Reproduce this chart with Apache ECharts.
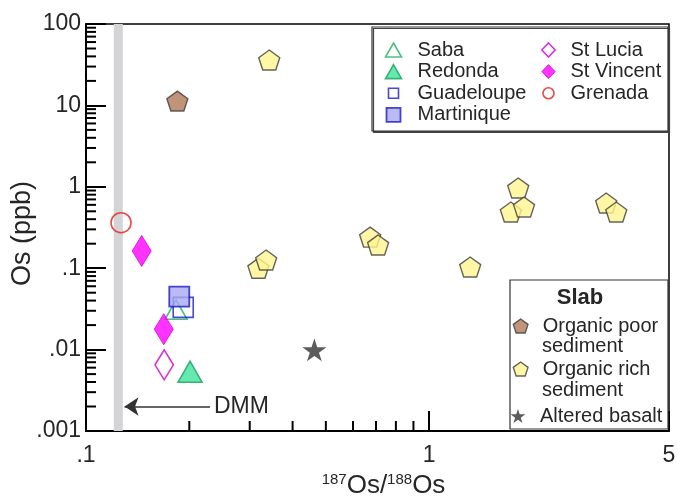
<!DOCTYPE html>
<html><head><meta charset="utf-8">
<script src="https://cdn.jsdelivr.net/npm/echarts@6/dist/echarts.min.js"></script>
<style>html,body{margin:0;padding:0;background:#fff}#c{width:677px;height:499px}</style>
</head><body><div id="c"></div>
<script>
// ---- data ----
const xMin = 0.1, xMax = 5, yMin = 0.001, yMax = 100;
const xTickValues = [0.1, 1, 5];
const xTickLabels = ['.1', '1', '5'];
const yTickValues = [0.001, 0.01, 0.1, 1, 10, 100];
const yTickLabels = ['.001', '.01', '.1', '1', '10', '100'];
const xMinorTicks = [0.2, 0.3, 0.4, 0.5, 0.6, 0.7, 0.8, 0.9];
const yMinorTicks = [0.002,0.003,0.004,0.005,0.006,0.007,0.008,0.009,
  0.02,0.03,0.04,0.05,0.06,0.07,0.08,0.09,
  0.2,0.3,0.4,0.5,0.6,0.7,0.8,0.9,
  2,3,4,5,6,7,8,9,
  20,30,40,50,60,70,80,90];
const dmmBand = [0.1205, 0.128];
const dmmArrow = [[0.2298, 0.002], [0.1295, 0.002]];

const saba = [[0.183, 0.031]];
const redonda = [[0.201, 0.00535]];
const guadeloupe = [[0.192, 0.033]];
const martinique = [[0.187, 0.0447]];
const stLucia = [[0.169, 0.0065]];
const stVincent = [[0.1453, 0.163], [0.1685, 0.0178]];
const grenada = [[0.1265, 0.362]];
const organicPoor = [[0.1846, 11.3]];
const organicRich = [[0.342, 36.1], [0.318, 0.100], [0.335, 0.126], [0.673, 0.241], [0.710, 0.193],
  [1.317, 0.1035], [1.818, 0.967], [1.73, 0.49], [1.89, 0.565], [3.28, 0.632], [3.51, 0.49]];
const alteredBasalt = [[0.463, 0.0099]];

// ---- styles ----
const FONT = '"Liberation Sans", Arial, sans-serif';
const TXT = '#262626';
const PENT = 'path://M50,0 L97.55,34.55 L79.39,90.45 L20.61,90.45 L2.45,34.55 Z';
const STAR = 'path://M50,0 L61.23,34.55 L97.55,34.55 L68.17,55.9 L79.39,90.45 L50,69.1 L20.61,90.45 L31.83,55.9 L2.45,34.55 L38.77,34.55 Z';
const TRI = 'path://M12,0 L24,21 L0,21 Z';
const DIA_TALL = 'path://M19,0 L38,31 L19,62 L0,31 Z';
const DIA_LEG = 'path://M20,0 L40,21 L20,42 L0,21 Z';
const SQ = 'path://M0,0 L10,0 L10,10 L0,10 Z';
const SQ_SMALL = 'path://M0,0 M2,2 L12,2 L12,12 L2,12 Z M14,14';
const CIRC_SMALL = 'path://M0,0 M1.5,7 A5.5,5.5 0 1,1 12.5,7 A5.5,5.5 0 1,1 1.5,7 Z M14,14';
const NONE = 'rgba(255,255,255,0)';
const S = {
  'Saba': {data: saba, symbol: TRI, size: 22, is: {color: NONE, borderColor: '#1fb060', borderWidth: 1.6}},
  'Redonda': {data: redonda, symbol: TRI, size: 24, is: {color: '#3fe39c', borderColor: '#16a35a', borderWidth: 1.6}},
  'Guadeloupe': {data: guadeloupe, symbol: SQ, legendIcon: SQ_SMALL, size: 20, is: {color: NONE, borderColor: '#1c1cc8', borderWidth: 1.6}},
  'Martinique': {data: martinique, symbol: SQ, size: 20, is: {color: '#a9a9f4', borderColor: '#1c1cc0', borderWidth: 1.8}},
  'St Lucia': {data: stLucia, symbol: DIA_TALL, legendIcon: DIA_LEG, size: 30, is: {color: '#fff', borderColor: '#cc00cc', borderWidth: 1.6}},
  'St Vincent': {data: stVincent, symbol: DIA_TALL, legendIcon: DIA_LEG, size: 31, is: {color: '#ff00ff', borderColor: '#dd00dd', borderWidth: 1}},
  'Grenada': {data: grenada, symbol: 'circle', legendIcon: CIRC_SMALL, size: 20, is: {color: NONE, borderColor: '#e0201c', borderWidth: 1.6}},
  'Organic poor sediment': {data: organicPoor, symbol: PENT, size: 21, is: {color: '#b27858', borderColor: '#3c3c3c', borderWidth: 1.4}},
  'Organic rich sediment': {data: organicRich, symbol: PENT, size: 21, is: {color: '#fff58e', borderColor: '#3c3c3c', borderWidth: 1.4}},
  'Altered basalt': {data: alteredBasalt, symbol: STAR, size: 24, is: {color: '#333333', borderColor: '#333333', borderWidth: 0}}
};
const drawOrder = ['Organic rich sediment', 'Organic poor sediment', 'Altered basalt', 'Saba', 'Redonda',
  'Guadeloupe', 'Martinique', 'St Lucia', 'St Vincent', 'Grenada'];

function tickLabel(v, vals, labels) {
  for (let i = 0; i < vals.length; i++) {
    if (Math.abs(Math.log10(v) - Math.log10(vals[i])) < 1e-6) return labels[i];
  }
  return '';
}
function legendItem(name) {
  const s = S[name];
  return {name: name, icon: s.legendIcon || s.symbol,
    itemStyle: Object.assign({}, s.is, {color: s.is.color === NONE ? '#fff' : s.is.color})};
}
const legendText = {fontSize: 20, color: TXT, fontFamily: FONT, lineHeight: 20};
const legendBase = {orient: 'vertical', padding: 0, itemHeight: 14, itemGap: 1.6, selectedMode: false,
  symbolKeepAspect: true, textStyle: legendText};

const series = drawOrder.map(name => ({
  type: 'scatter', name: name, data: S[name].data, symbol: S[name].symbol, symbolSize: S[name].size,
  symbolKeepAspect: true, itemStyle: S[name].is, silent: true, z: 4
}));
series.unshift({
  type: 'custom', name: 'xminor', silent: true, z: 3, clip: false,
  data: xMinorTicks.map(v => [v, yMin]),
  renderItem: (p, api) => {
    const pt = api.coord([api.value(0), api.value(1)]);
    return {type: 'line', shape: {x1: pt[0], y1: pt[1], x2: pt[0], y2: pt[1] - 10}, style: {stroke: '#000', lineWidth: 2}};
  }
});
series.unshift({
  type: 'custom', name: 'yminor', silent: true, z: 3, clip: false,
  data: yMinorTicks.map(v => [xMin, v]),
  renderItem: (p, api) => {
    const pt = api.coord([api.value(0), api.value(1)]);
    return {type: 'line', shape: {x1: pt[0], y1: pt[1], x2: pt[0] + 10, y2: pt[1]}, style: {stroke: '#000', lineWidth: 2}};
  },
  markArea: {silent: true, itemStyle: {color: '#d4d4d7'}, data: [[{xAxis: dmmBand[0]}, {xAxis: dmmBand[1]}]]},
  markLine: {
    silent: true, animation: false,
    lineStyle: {color: '#333', width: 1.6, type: 'solid'},
    label: {show: true, position: 'start', distance: 4, formatter: 'DMM', fontSize: 23, color: TXT, fontFamily: FONT},
    data: [[{coord: dmmArrow[0], symbol: 'none'}, {coord: dmmArrow[1], symbol: 'arrow', symbolSize: 14}]]
  }
});

const option = {
  animation: false,
  backgroundColor: '#fff',
  grid: {left: 86, right: 8, top: 24, bottom: 68, outerBoundsMode: 'none', containLabel: false,
    show: true, borderColor: '#000', borderWidth: 1.5, backgroundColor: 'transparent'},
  xAxis: {
    type: 'log', logBase: 10, min: xMin, max: xMax,
    axisLine: {show: true, lineStyle: {color: '#000', width: 2}},
    axisTick: {show: true, inside: true, length: 20, lineStyle: {color: '#000', width: 2}},
    splitLine: {show: false},
    axisLabel: {margin: 13, fontSize: 23, color: TXT, fontFamily: FONT, showMinLabel: true, showMaxLabel: true,
      formatter: v => tickLabel(v, xTickValues, xTickLabels)},
    name: '{a|187}{b|Os/}{a|188}{b|Os}', nameLocation: 'middle', nameGap: 38,
    nameTextStyle: {padding: [0, 0, 0, 12], rich: {
      a: {fontSize: 15, verticalAlign: 'top', lineHeight: 28, color: TXT, fontFamily: FONT},
      b: {fontSize: 26, lineHeight: 28, color: TXT, fontFamily: FONT}
    }}
  },
  yAxis: {
    type: 'log', logBase: 10, min: yMin, max: yMax,
    axisLine: {show: true, lineStyle: {color: '#000', width: 2}},
    axisTick: {show: true, inside: true, length: 20, lineStyle: {color: '#000', width: 2}},
    splitLine: {show: false},
    axisLabel: {margin: 5, fontSize: 23, color: TXT, fontFamily: FONT, formatter: v => tickLabel(v, yTickValues, yTickLabels)},
    name: 'Os (ppb)', nameLocation: 'middle', nameGap: 50, nameMoveOverlap: false,
    nameTextStyle: {fontSize: 27, color: TXT, fontFamily: FONT, padding: [0, 12, 0, 0]}
  },
  legend: [
    Object.assign({}, legendBase, {left: 384.7, top: 40, itemWidth: 38, data: ['Saba', 'Redonda', 'Guadeloupe', 'Martinique'].map(legendItem)}),
    Object.assign({}, legendBase, {left: 540.7, top: 40, itemWidth: 34, data: ['St Lucia', 'St Vincent', 'Grenada'].map(legendItem)}),
    Object.assign({}, legendBase, {left: 512.6, top: 316, itemWidth: 34, data: [legendItem('Organic poor sediment')], formatter: () => 'Organic poor'}),
    Object.assign({}, legendBase, {left: 512.6, top: 359, itemWidth: 34, data: [legendItem('Organic rich sediment')], formatter: () => 'Organic rich'}),
    Object.assign({}, legendBase, {left: 510.6, top: 406, itemWidth: 34, data: [legendItem('Altered basalt')]})
  ],
  graphic: [
    {type: 'rect', z: 3, shape: {x: 372, y: 27, width: 296, height: 104},
      style: {fill: '#fff', stroke: '#333', lineWidth: 1.2, shadowColor: '#444', shadowOffsetX: 1.5, shadowOffsetY: 1.5, shadowBlur: 0}},
    {type: 'rect', z: 3, shape: {x: 510, y: 280, width: 158, height: 149},
      style: {fill: '#fff', stroke: '#333', lineWidth: 1.2}},
    {type: 'text', z: 5, x: 580, y: 298, style: {text: 'Slab', font: 'bold 22px ' + FONT, fill: TXT, align: 'center', verticalAlign: 'middle'}},
    {type: 'text', z: 5, x: 542, y: 346, style: {text: 'sediment', font: '20px ' + FONT, fill: TXT, align: 'left', verticalAlign: 'middle'}},
    {type: 'text', z: 5, x: 542, y: 390, style: {text: 'sediment', font: '20px ' + FONT, fill: TXT, align: 'left', verticalAlign: 'middle'}}
  ],
  series: series
};
const chart = echarts.init(document.getElementById('c'));
chart.setOption(option);
</script>
</body></html>
